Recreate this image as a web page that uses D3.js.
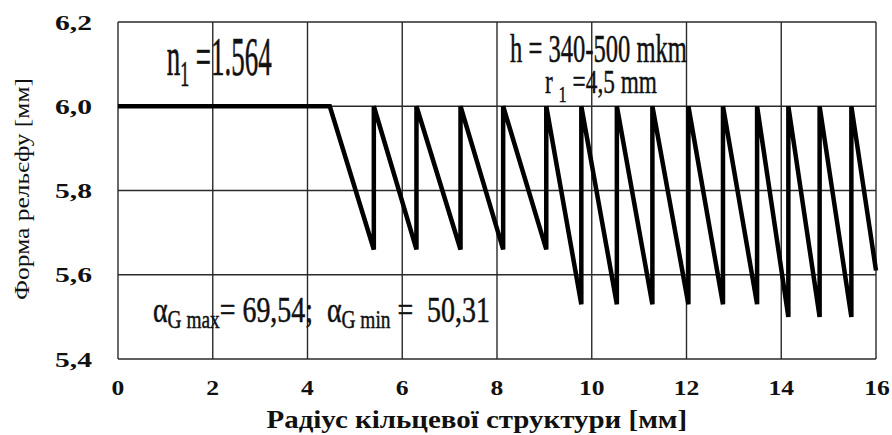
<!DOCTYPE html>
<html><head><meta charset="utf-8">
<script src="https://cdn.jsdelivr.net/npm/d3@7"></script>
<style>body{margin:0;background:#fff}svg{display:block}text{white-space:pre}</style>
</head><body>
<svg id="c" width="892" height="435"></svg>
<script>
// Data
const xTicks = [0, 2, 4, 6, 8, 10, 12, 14, 16];
const yTicks = [5.4, 5.6, 5.8, 6.0, 6.2];
const yTickLabels = ["5,4", "5,6", "5,8", "6,0", "6,2"];
const profileR = [0, 4.47, 5.40, 5.40, 6.30, 6.30, 7.23, 7.23, 8.13, 8.13, 9.04, 9.04,
  9.78, 9.78, 10.53, 10.53, 11.28, 11.28, 12.04, 12.04, 12.77, 12.77, 13.49, 13.49,
  14.15, 14.15, 14.81, 14.81, 15.48, 15.48, 16.0];
const profileZ = [6.0, 6.0, 5.66, 6.0, 5.66, 6.0, 5.66, 6.0, 5.66, 6.0, 5.66, 6.0,
  5.53, 6.0, 5.53, 6.0, 5.53, 6.0, 5.53, 6.0, 5.53, 6.0, 5.53, 6.0,
  5.50, 6.0, 5.50, 6.0, 5.50, 6.0, 5.61];
const xTitle = "Радіус кільцевої структури [мм]";
const yTitle = "Форма рельєфу [мм]";

const svg = d3.select("#c");
const L = 118, R = 876, T = 22, B = 359;
const x = d3.scaleLinear().domain([0, 16]).range([L, R]);
const y = d3.scaleLinear().domain([5.4, 6.2]).range([B, T]);
const serif = "'Liberation Serif', 'Times New Roman', serif";
const gridCol = "#2a2a2a";

// grid
svg.append("g").selectAll("line").data(xTicks).join("line")
  .attr("x1", d => x(d)).attr("x2", d => x(d)).attr("y1", T).attr("y2", B)
  .attr("stroke", gridCol).attr("stroke-width", 1.4);
svg.append("g").selectAll("line").data(yTicks).join("line")
  .attr("x1", L).attr("x2", R).attr("y1", d => y(d)).attr("y2", d => y(d))
  .attr("stroke", gridCol).attr("stroke-width", 1.4);

// tick labels
svg.append("g").selectAll("text").data(yTicks).join("text")
  .attr("x", 92).attr("y", d => y(d)).attr("dy", "0.38em")
  .attr("text-anchor", "end").attr("font-family", serif).attr("font-weight", "bold")
  .attr("font-size", 20).attr("textLength", 37).attr("lengthAdjust", "spacingAndGlyphs")
  .attr("fill", "#111")
  .text((d, i) => yTickLabels[i]);
svg.append("g").selectAll("text").data(xTicks).join("text")
  .attr("x", d => x(d) + (d === 16 ? 1 : 0)).attr("y", 395)
  .attr("text-anchor", "middle").attr("font-family", serif).attr("font-weight", "bold")
  .attr("font-size", 21)
  .attr("textLength", d => String(d).length * 12.8).attr("lengthAdjust", "spacingAndGlyphs")
  .attr("fill", "#111")
  .text(d => d);

// profile line
const pts = profileR.map((r, i) => [r, profileZ[i]]);
svg.append("path").datum(pts)
  .attr("d", d3.line().x(d => x(d[0])).y(d => y(d[1])))
  .attr("fill", "none").attr("stroke", "#000").attr("stroke-width", 4.5)
  .attr("stroke-linejoin", "miter").attr("stroke-miterlimit", 4);

// helper to place a text group scaled horizontally to a target width
function fitted(xpos, ypos, width, build, anchor) {
  const g = svg.append("g");
  const t = g.append("text").attr("font-family", serif).attr("fill", "#111");
  build(t);
  const w = t.node().getBBox().width;
  const s = width / w;
  const x0 = anchor === "middle" ? xpos - width / 2 : xpos;
  g.attr("transform", `translate(${x0},${ypos}) scale(${s},1)`);
  return g;
}

// annotations
fitted(166.7, 75, 105, t => {
  t.attr("font-size", 54).attr("stroke", "#111").attr("stroke-width", 0.6);
  t.append("tspan").text("n");
  t.append("tspan").attr("font-size", 36).attr("dy", 11).text("1");
  t.append("tspan").attr("dy", -11).text(" =1.564");
});
fitted(510, 62, 177, t => {
  t.attr("font-size", 40).attr("stroke", "#111").attr("stroke-width", 0.5);
  t.append("tspan").text("h = 340-500 mkm");
});
fitted(545, 93, 112, t => {
  t.attr("font-size", 34).attr("stroke", "#111").attr("stroke-width", 0.4);
  t.append("tspan").text("r ");
  t.append("tspan").attr("font-size", 24).attr("dy", 9).text("1");
  t.append("tspan").attr("dy", -9).text(" =4,5 mm");
});
fitted(153, 322, 337, t => {
  t.attr("font-size", 36).attr("stroke", "#111").attr("stroke-width", 0.5);
  t.append("tspan").text("α");
  t.append("tspan").attr("font-size", 25).attr("dy", 6).text("G max");
  t.append("tspan").attr("dy", -6).text("= 69,54;  α");
  t.append("tspan").attr("font-size", 25).attr("dy", 6).text("G min");
  t.append("tspan").attr("dy", -6).text(" =  50,31");
});

// axis titles
fitted(477, 428, 421, t => {
  t.attr("font-size", 26).attr("font-weight", "bold");
  t.append("tspan").text(xTitle);
}, "middle");
{
  const g = svg.append("g").attr("transform", "translate(29,189) rotate(-90)");
  g.append("text").attr("text-anchor", "middle").attr("font-family", serif)
    .attr("font-size", 22).attr("fill", "#111")
    .attr("textLength", 222).attr("lengthAdjust", "spacingAndGlyphs")
    .text(yTitle);
}
</script>
</body></html>
